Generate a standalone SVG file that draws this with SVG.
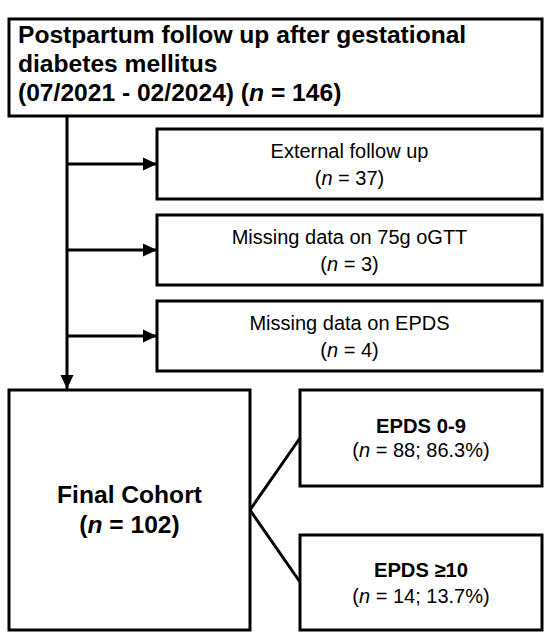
<svg xmlns="http://www.w3.org/2000/svg" width="550" height="639" viewBox="0 0 550 639">
<defs>
<style>
.box{fill:#fff;stroke:#000;stroke-width:3}
.t{font-family:"Liberation Sans",Arial,Helvetica,sans-serif;fill:#000}
.b{font-weight:bold;font-size:24.6px}
.r{font-size:20px}
.rb{font-weight:bold;font-size:20.2px}
.c{text-anchor:middle}
.i{font-style:italic}
.ln{fill:none;stroke:#000;stroke-width:3}
</style>
<marker id="ah" markerUnits="userSpaceOnUse" markerWidth="15" markerHeight="15" viewBox="0 0 15 15" refX="14" refY="7.5" orient="auto">
<path d="M0,1 L14,7.5 L0,14 Z" fill="#000"/>
</marker>
</defs>
<rect width="550" height="639" fill="#fff"/>
<g id="connectors">
<line class="ln" x1="67" y1="116" x2="67" y2="389" marker-end="url(#ah)"/>
<line class="ln" x1="67" y1="164" x2="157" y2="164" marker-end="url(#ah)"/>
<line class="ln" x1="67" y1="250" x2="157" y2="250" marker-end="url(#ah)"/>
<line class="ln" x1="67" y1="336" x2="157" y2="336" marker-end="url(#ah)"/>
<polyline class="ln" points="300,438 250,510 300,582"/>
</g>
<g id="n-start">
<rect class="box" x="9" y="19" width="533" height="97"/>
<text class="t b" x="18" y="43">Postpartum follow up after gestational</text>
<text class="t b" x="18" y="72">diabetes mellitus</text>
<text class="t b" x="18" y="101">(07/2021 - 02/2024) (<tspan class="i">n</tspan> = 146)</text>
</g>
<g id="n-external">
<rect class="box" x="157" y="129" width="385" height="70"/>
<text class="t r c" x="349.5" y="158">External follow up</text>
<text class="t r c" x="349.5" y="185">(<tspan class="i">n</tspan> = 37)</text>
</g>
<g id="n-ogtt">
<rect class="box" x="157" y="215" width="385" height="70"/>
<text class="t r c" x="349.5" y="244">Missing data on 75g oGTT</text>
<text class="t r c" x="349.5" y="271">(<tspan class="i">n</tspan> = 3)</text>
</g>
<g id="n-epds-missing">
<rect class="box" x="157" y="301" width="385" height="70"/>
<text class="t r c" x="349.5" y="330">Missing data on EPDS</text>
<text class="t r c" x="349.5" y="357">(<tspan class="i">n</tspan> = 4)</text>
</g>
<g id="n-final">
<rect class="box" x="9" y="390" width="241" height="240"/>
<text class="t b c" x="129.5" y="503">Final Cohort</text>
<text class="t b c" x="129.5" y="533">(<tspan class="i">n</tspan> = 102)</text>
</g>
<g id="n-low">
<rect class="box" x="300" y="390" width="242" height="96"/>
<text class="t rb c" x="421" y="433">EPDS 0-9</text>
<text class="t r c" x="421" y="457">(<tspan class="i">n</tspan> = 88; 86.3%)</text>
</g>
<g id="n-high">
<rect class="box" x="300" y="535" width="242" height="95"/>
<text class="t rb c" x="421" y="577">EPDS ≥10</text>
<text class="t r c" x="421" y="603">(<tspan class="i">n</tspan> = 14; 13.7%)</text>
</g>
</svg>
